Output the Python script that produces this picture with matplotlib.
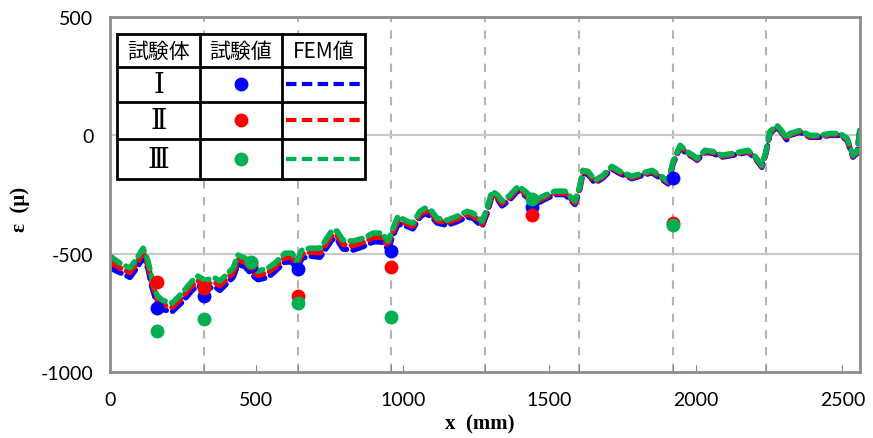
import matplotlib.pyplot as plt
from matplotlib.lines import Line2D
import numpy as np

plt.rcParams['font.family'] = ['Lato', 'Noto Sans CJK JP', 'DejaVu Sans']
plt.rcParams['axes.unicode_minus'] = False

# 試験値 (測定点)
x_test = [160, 320, 480, 640, 960, 1440, 1920]
test_I = [-730, -680, -550, -565, -490, -304, -181]
test_II = [-620, -645, -540, -680, -557, -337, -371]
test_III = [-827, -776, -535, -710, -768, -270, -380]

# FEM値
x_fem = [0, 34, 68, 92, 113, 130, 143, 160, 177, 212,
         246, 280, 300, 324, 358, 375, 420, 437, 461, 485,
         505, 539, 563, 597, 621, 638, 655, 683, 717, 734,
         758, 775, 795, 829, 864, 898, 928, 949, 966, 983,
         1014, 1034, 1058, 1075, 1099, 1116, 1150, 1184, 1219, 1239,
         1270, 1287, 1304, 1324, 1338, 1365, 1393, 1417, 1451, 1485,
         1519, 1553, 1587, 1604, 1614, 1632, 1655, 1683, 1713, 1741,
         1782, 1816, 1850, 1877, 1905, 1922, 1946, 1969, 1990, 2004,
         2031, 2058, 2089, 2126, 2178, 2202, 2225, 2239, 2253, 2277,
         2294, 2311, 2321, 2355, 2389, 2423, 2458, 2492, 2516, 2536,
         2550, 2560]
fem_I = [-560, -580, -600, -560, -515, -565, -640, -710, -735, -745,
         -705, -655, -635, -650, -640, -655, -600, -545, -555, -590,
         -610, -600, -575, -535, -535, -565, -520, -510, -515, -485,
         -440, -440, -480, -485, -470, -450, -450, -480, -425, -375,
         -385, -395, -345, -330, -345, -370, -380, -365, -345, -350,
         -385, -330, -255, -272, -298, -272, -232, -255, -292, -270,
         -250, -250, -292, -225, -160, -165, -202, -180, -142, -162,
         -183, -170, -158, -180, -205, -120, -52, -78, -92, -105,
         -72, -76, -92, -84, -71, -97, -135, -76, 9, 34,
         9, -21, 0, 13, -8, -8, 0, 0, -21, -92,
         -76, 22]
fem_II = [-535, -560, -580, -540, -495, -550, -620, -692, -715, -727,
          -686, -635, -615, -631, -621, -635, -580, -525, -537, -571,
          -592, -580, -557, -516, -516, -548, -502, -493, -496, -466,
          -420, -422, -461, -466, -452, -431, -431, -463, -408, -358,
          -374, -383, -333, -319, -333, -360, -369, -353, -333, -339,
          -374, -319, -245, -262, -288, -262, -223, -245, -283, -261,
          -243, -243, -285, -218, -154, -158, -196, -174, -136, -157,
          -178, -165, -153, -174, -199, -115, -47, -73, -88, -101,
          -67, -72, -88, -80, -67, -93, -131, -72, 13, 38,
          13, -17, 4, 17, -4, -4, 4, 4, -17, -88,
          -72, 26]
fem_III = [-510, -540, -561, -519, -477, -532, -603, -675, -696, -709,
           -667, -616, -595, -612, -603, -616, -561, -506, -519, -553,
           -574, -561, -540, -498, -498, -532, -485, -477, -477, -447,
           -401, -405, -443, -447, -435, -413, -413, -447, -392, -342,
           -363, -371, -321, -308, -321, -350, -359, -342, -321, -329,
           -363, -308, -236, -253, -278, -253, -215, -236, -274, -253,
           -236, -236, -278, -211, -148, -152, -190, -169, -131, -152,
           -173, -160, -148, -169, -194, -110, -42, -68, -84, -97,
           -63, -68, -84, -76, -63, -89, -127, -68, 17, 42,
           17, -13, 8, 21, 0, 0, 8, 8, -13, -84,
           -68, 30]

labels = ['Ⅰ', 'Ⅱ', 'Ⅲ']
colors = ['#0000FF', '#FF0000', '#00B050']

fig = plt.figure(figsize=(8.73, 4.39), dpi=100)
ax = fig.add_axes([110 / 873, 66 / 439, 750 / 873, 355 / 439])

# グリッド
for gx in range(320, 2560, 320):
    ax.axvline(gx, color='#b4b4b4', lw=1.5, ls=(0, (4, 4)), zorder=0)
for gy in [0, -500]:
    ax.axhline(gy, color='#c8c8c8', lw=1.5, zorder=0)

# FEM値 (破線)
for y, c in zip([fem_I, fem_II, fem_III], colors):
    ax.plot(x_fem, y, color=c, lw=4, ls=(0, (2.2, 1.2)),
            dash_capstyle='round', solid_capstyle='round',
            solid_joinstyle='round', dash_joinstyle='round', zorder=2)

# 試験値 (点)
for y, c in zip([test_I, test_II, test_III], colors):
    ax.plot(x_test, y, 'o', color=c, ms=10, mec='none', zorder=3)

ax.set_xlim(0, 2560)
ax.set_ylim(-1000, 500)
ax.set_xticks([0, 500, 1000, 1500, 2000, 2500])
ax.set_xticks(range(320, 2560, 320), minor=True)
ax.set_yticks([-1000, -500, 0, 500])
ax.tick_params(axis='x', which='both', direction='in', length=5,
               color='#808080', labelsize=14, pad=14)
ax.tick_params(axis='y', length=0, labelsize=14, pad=12)
for s in ax.spines.values():
    s.set_color('#8c8c8c')
    s.set_linewidth(2)

ax.set_xlabel('x  (mm)', family='Liberation Serif', fontweight='bold',
              fontsize=15)
ax.set_ylabel('ε  (μ)', family='Liberation Serif', fontweight='bold',
              fontsize=15)
ax.xaxis.set_label_coords(0.493, -0.117)
ax.yaxis.set_label_coords(-0.107, 0.46)

# 凡例 (表形式)
tr = ax.transAxes
x0, x1, x2, x3 = 0.0093, 0.12, 0.229, 0.34
ys = [0.952, 0.859, 0.761, 0.656, 0.544]
ax.add_patch(plt.Rectangle((x0, ys[-1]), x3 - x0, ys[0] - ys[-1],
                           transform=tr, facecolor='white',
                           edgecolor='black', lw=2, zorder=5))
for xv in [x1, x2]:
    ax.add_line(Line2D([xv, xv], [ys[-1], ys[0]], transform=tr,
                       color='black', lw=2, zorder=6))
for yv in ys[1:-1]:
    ax.add_line(Line2D([x0, x3], [yv, yv], transform=tr,
                       color='black', lw=2, zorder=6))

hdr = ['試験体', '試験値', 'FEM値']
for xl, xr, t in zip([x0, x1, x2], [x1, x2, x3], hdr):
    ax.text((xl + xr) / 2, (ys[0] + ys[1]) / 2, t, transform=tr,
            ha='center', va='center', fontsize=15,
            family=['Noto Sans CJK JP', 'DejaVu Sans'], zorder=7)
for i, (lab, c) in enumerate(zip(labels, colors)):
    ym = (ys[i + 1] + ys[i + 2]) / 2
    ax.text((x0 + x1) / 2, ym, lab, transform=tr, ha='center',
            va='center', fontsize=20,
            family=['DejaVu Serif', 'Noto Sans CJK JP'], zorder=7)
    ax.add_line(Line2D([(x1 + x2) / 2], [ym], transform=tr, marker='o',
                       ms=10, color=c, mec='none', zorder=7))
    ax.add_line(Line2D([x2 + 0.006, x3 - 0.006], [ym, ym], transform=tr,
                       color=c, lw=3, ls=(0, (2.5, 1.3)), zorder=7))

fig.savefig('out.png', dpi=100)
